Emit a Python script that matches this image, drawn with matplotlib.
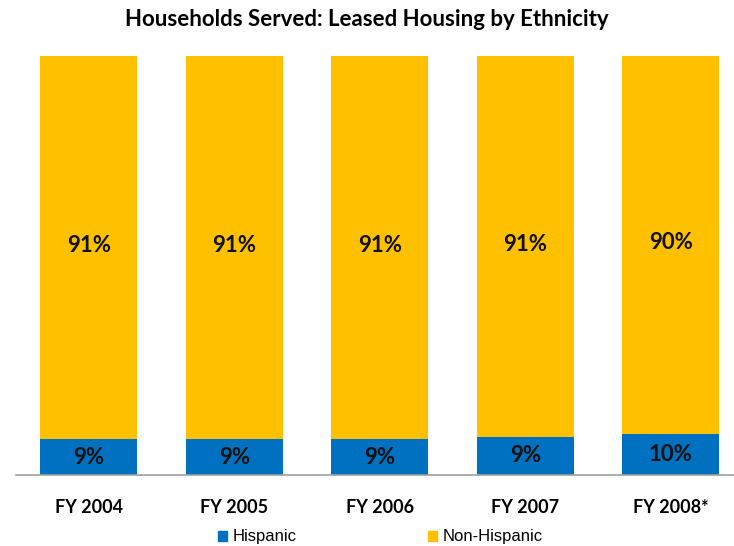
import matplotlib.pyplot as plt
from matplotlib.patches import Patch

years = ["FY 2004", "FY 2005", "FY 2006", "FY 2007", "FY 2008*"]
hispanic = [8.6, 8.6, 8.6, 9.1, 9.8]
non_hispanic = [100 - h for h in hispanic]

BLUE = "#0070C0"
GOLD = "#FFC000"

fig = plt.figure(figsize=(7.34, 5.46), dpi=100)
ax = fig.add_axes([16 / 734, 0.130, 727.5 / 734, 0.7674])

x = range(len(years))
ax.bar(x, hispanic, width=0.667, color=BLUE)
ax.bar(x, non_hispanic, width=0.667, bottom=hispanic, color=GOLD)

for i, (h, n) in enumerate(zip(hispanic, non_hispanic)):
    ax.text(i, h / 2, f"{round(h)}%", ha="center", va="center",
            family="Lato", weight="bold", fontsize=16, color="#111111")
    ax.text(i, h + n / 2 + 0.5, f"{round(n)}%", ha="center", va="center",
            family="Lato", weight="bold", fontsize=16, color="#111111")

ax.set_xlim(-0.5, len(years) - 0.5)
ax.set_ylim(0, 100)
ax.set_xticks(list(x))
ax.set_xticklabels(years, family="Lato", weight="bold", fontsize=13)
ax.tick_params(axis="x", length=0, pad=17.5)
ax.set_yticks([])
for side in ["top", "left", "right"]:
    ax.spines[side].set_visible(False)
ax.spines["bottom"].set_color("#A0A0A0")
ax.spines["bottom"].set_linewidth(1.2)

fig.text(0.5, 1 - 19 / 546, "Households Served: Leased Housing by Ethnicity",
         ha="center", va="center", family="Lato", weight="bold", fontsize=16)

handles = [Patch(color=BLUE, label="Hispanic"), Patch(color=GOLD, label="Non-Hispanic")]
fig.legend(handles=handles, loc="center", bbox_to_anchor=(0.518, 1 - 537 / 546), ncol=2,
           frameon=False, handlelength=0.55, handleheight=0.55, handletextpad=0.3,
           columnspacing=7.9, prop={"family": "Liberation Sans", "size": 12})

fig.savefig("out.png", dpi=100)
